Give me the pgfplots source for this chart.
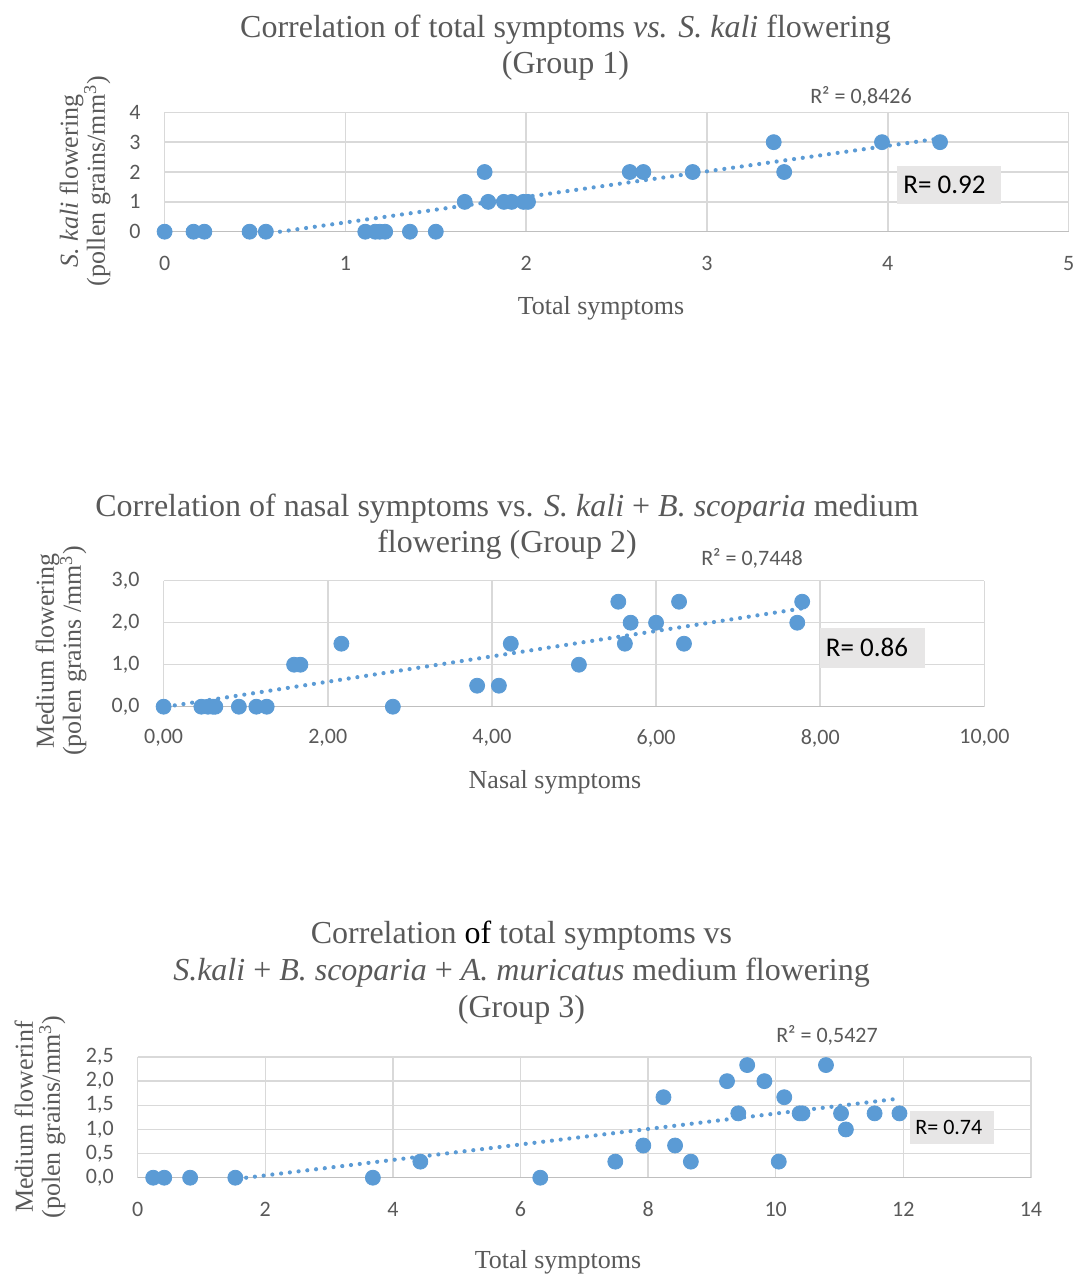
\documentclass[border=0pt]{standalone}
\usepackage{pgfplots}
\pgfplotsset{compat=1.18}
\usepackage{pgfplotstable}
\usepackage{fontspec}
\setmainfont{Liberation Serif}
\newfontfamily\calfont{Carlito}
\definecolor{mblue}{HTML}{5B9BD5}
\definecolor{tgrey}{HTML}{595959}
\definecolor{ggrey}{HTML}{D9D9D9}
\definecolor{agrey}{HTML}{BFBFBF}
\definecolor{bfill}{HTML}{E7E6E6}

\pgfplotsset{
 excel/.style={
  scale only axis,
  anchor=south west,
  axis line style={draw=none},
  tick style={draw=none},
  grid=major,
  grid style={ggrey, line width=0.75pt},
  ymin=0,
  /pgf/number format/assume math mode=true,
  tick label style={font=\calfont\fontsize{11}{13}\selectfont, text=tgrey},
  xticklabel style={anchor=center, yshift=-15.75pt},
  yticklabel style={anchor=east, xshift=-8.5pt},
  clip=false,
 },
 dots/.style={only marks, mark=*, color=mblue, mark size=3.75pt, mark options={draw=mblue, fill=mblue, solid}},
 trend/.style={no marks, color=mblue, line width=2.1pt, line cap=round, dash pattern=on 0pt off 4.4pt},
}

\pgfplotstableread{
x y
0 0
0.16 0
0.22 0
0.47 0
0.56 0
1.11 0
1.165 0
1.19 0
1.22 0
1.357 0
1.50 0
1.66 1
1.77 2
1.79 1
1.877 1
1.92 1
1.985 1
2.01 1
2.573 2
2.648 2
2.921 2
3.369 3
3.427 2
3.968 3
4.289 3
}\groupA

\pgfplotstableread{
x y
0 0
0.46 0
0.54 0
0.60 0
0.63 0
0.917 0
1.13 0
1.256 0
1.59 1
1.667 1
2.166 1.5
2.793 0
3.82 0.5
4.085 0.5
4.23 1.5
5.06 1
5.54 2.5
5.62 1.5
5.69 2
6.00 2
6.28 2.5
6.34 1.5
7.72 2
7.78 2.5
}\groupB

\pgfplotstableread{
x y
0.243 0
0.416 0
0.822 0
1.53 0
3.686 0
4.43 0.333
6.31 0
7.486 0.333
7.925 0.667
8.241 1.667
8.423 0.667
8.67 0.333
9.237 2
9.414 1.333
9.553 2.333
9.823 2
10.048 0.333
10.134 1.667
10.375 1.333
10.42 1.333
10.788 2.333
11.024 1.333
11.10 1.0
11.55 1.333
11.94 1.333
}\groupC

\begin{document}
\begin{tikzpicture}
\useasboundingbox (0,0) rectangle (538pt,-637.5pt);

% ---------------- Chart 1 ----------------
\node[anchor=base, font=\fontsize{16}{18}\selectfont, text=tgrey] at (282.75pt,-18.5pt) {Correlation of total symptoms \textit{vs. S. kali} flowering};
\node[anchor=base, font=\fontsize{16}{18}\selectfont, text=tgrey] at (282.75pt,-36.5pt) {(Group 1)};
\begin{axis}[excel, at={(82.3pt,-115.85pt)}, width=452pt, height=59.7pt,
  xmin=0, xmax=5, ymax=4, xtick={0,1,2,3,4,5}, ytick={0,1,2,3,4}]
\draw[agrey, line width=0.75pt] (axis cs:0,0) -- (axis cs:5,0);
\addplot[dots] table[x=x,y=y] {\groupA};
\addplot[trend] coordinates {(0.638,0) (4.289,3.125)};
\end{axis}
\node[anchor=base, font=\calfont\fontsize{11}{13}\selectfont, text=tgrey] at (430.5pt,-51.5pt) {R² = 0,8426};
\fill[bfill] (448.3pt,-83pt) rectangle (500.25pt,-102pt);
\node[anchor=west, inner sep=0pt, font=\calfont\fontsize{13.5}{15}\selectfont, text=black] at (451.5pt,-92.5pt) {R= 0.92};
\node[anchor=base, font=\fontsize{13}{15}\selectfont, text=tgrey] at (300.5pt,-157pt) {Total symptoms};
\node[rotate=90, align=center, font=\fontsize{13}{13.5}\selectfont, text=tgrey] at (42.5pt,-90.5pt) {\textit{S. kali} flowering\\(pollen grains/mm\textsuperscript{3})};

% ---------------- Chart 2 ----------------
\node[anchor=base, font=\fontsize{16}{18}\selectfont, text=tgrey] at (253.5pt,-258pt) {Correlation of nasal symptoms vs. \textit{S. kali} + \textit{B. scoparia} medium};
\node[anchor=base, font=\fontsize{16}{18}\selectfont, text=tgrey] at (253.5pt,-276pt) {flowering (Group 2)};
\begin{axis}[excel, at={(81.8pt,-353.35pt)}, width=410.4pt, height=63pt,
  xmin=0, xmax=10, ymax=3, xtick={0,2,4,6,8,10}, ytick={0,1,2,3},
  xticklabel style={/pgf/number format/.cd, fixed, fixed zerofill, precision=2, use comma},
  yticklabel style={/pgf/number format/.cd, fixed, fixed zerofill, precision=1, use comma}]
\draw[agrey, line width=0.75pt] (axis cs:0,0) -- (axis cs:10,0);
\addplot[dots] table[x=x,y=y] {\groupB};
\addplot[trend] coordinates {(0.03,0) (7.78,2.34)};
\end{axis}
\node[anchor=base, font=\calfont\fontsize{11}{13}\selectfont, text=tgrey] at (376pt,-282.5pt) {R² = 0,7448};
\fill[bfill] (410.15pt,-313.85pt) rectangle (462.3pt,-333.85pt);
\node[anchor=west, inner sep=0pt, font=\calfont\fontsize{13.5}{15}\selectfont, text=black] at (412.75pt,-323.85pt) {R= 0.86};
\node[anchor=base, font=\fontsize{13}{15}\selectfont, text=tgrey] at (277.5pt,-394pt) {Nasal symptoms};
\node[rotate=90, align=center, font=\fontsize{13}{13.5}\selectfont, text=tgrey] at (30.5pt,-325.5pt) {Medium flowering\\(polen grains /mm\textsuperscript{3})};

% ---------------- Chart 3 ----------------
\node[anchor=base, font=\fontsize{16}{18}\selectfont, text=tgrey] at (260.75pt,-471.5pt) {Correlation \textcolor{black}{of} total symptoms vs};
\node[anchor=base, font=\fontsize{16}{18}\selectfont, text=tgrey] at (260.75pt,-490pt) {\textit{S.kali} + \textit{B. scoparia} + \textit{A. muricatus} medium flowering};
\node[anchor=base, font=\fontsize{16}{18}\selectfont, text=tgrey] at (260.75pt,-508.5pt) {(Group 3)};
\begin{axis}[excel, at={(68.85pt,-588.85pt)}, width=446.6pt, height=60.35pt,
  xmin=0, xmax=14, ymax=2.5, xtick={0,2,4,6,8,10,12,14}, ytick={0,0.5,1,1.5,2,2.5},
  yticklabel style={/pgf/number format/.cd, fixed, fixed zerofill, precision=1, use comma}]
\draw[agrey, line width=0.75pt] (axis cs:0,0) -- (axis cs:14,0);
\addplot[dots] table[x=x,y=y] {\groupC};
\addplot[trend] coordinates {(1.7,0) (11.94,1.64)};
\end{axis}
\node[anchor=base, font=\calfont\fontsize{11}{13}\selectfont, text=tgrey] at (413.5pt,-521pt) {R² = 0,5427};
\fill[bfill] (455.15pt,-555.5pt) rectangle (496.85pt,-572.15pt);
\node[anchor=west, inner sep=0pt, font=\calfont\fontsize{11}{13}\selectfont, text=black] at (457.5pt,-563.85pt) {R= 0.74};
\node[anchor=base, font=\fontsize{13}{15}\selectfont, text=tgrey] at (279pt,-634pt) {Total symptoms};
\node[rotate=90, align=center, font=\fontsize{13}{13.5}\selectfont, text=tgrey] at (20pt,-558.5pt) {Medium flowerinf\\(polen grains/mm\textsuperscript{3})};
\end{tikzpicture}
\end{document}
